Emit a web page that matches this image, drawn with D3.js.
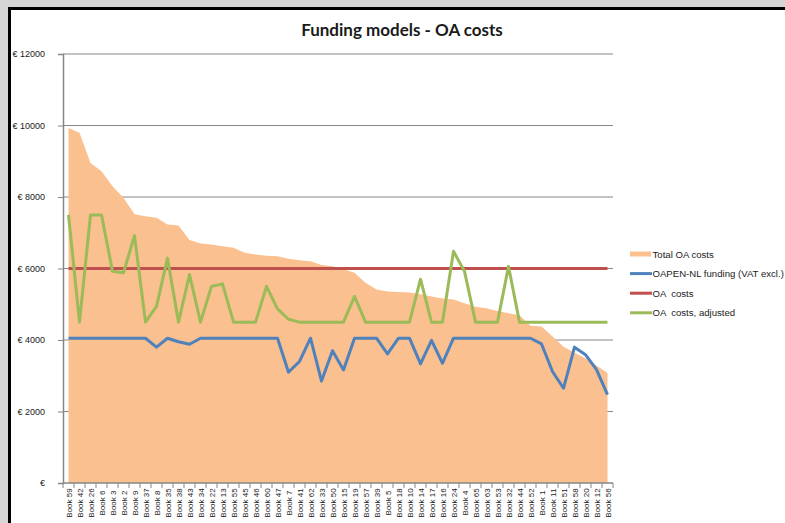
<!DOCTYPE html>
<html>
<head>
<meta charset="utf-8">
<script src="https://cdn.jsdelivr.net/npm/d3@7"></script>
<style>
	body { margin: 0; background: #fff; }
	svg { display: block; }
	text { font-family: 'Liberation Sans', Arial, sans-serif; fill: #1a1a1a; }
	.title { font-family: Lato, 'Liberation Sans', sans-serif; font-weight: bold; font-size: 17px; }
	.legend-label { font-size: 9.6px; white-space: pre; }
	.y-label { font-size: 9px; }
	.x-label { font-size: 8px; }
</style>
</head>
<body>
<svg class="chart" width="785" height="523"></svg>
<script>

const books = ['Book 59', 'Book 42', 'Book 26', 'Book 6', 'Book 3', 'Book 2', 'Book 9', 'Book 37', 'Book 8', 'Book 35',
	'Book 38', 'Book 43', 'Book 34', 'Book 22', 'Book 13', 'Book 55', 'Book 45', 'Book 46', 'Book 60', 'Book 47',
	'Book 7', 'Book 41', 'Book 62', 'Book 33', 'Book 50', 'Book 15', 'Book 19', 'Book 57', 'Book 39', 'Book 5',
	'Book 18', 'Book 10', 'Book 14', 'Book 17', 'Book 16', 'Book 24', 'Book 4', 'Book 65', 'Book 63', 'Book 53',
	'Book 32', 'Book 44', 'Book 52', 'Book 1', 'Book 11', 'Book 51', 'Book 58', 'Book 20', 'Book 12', 'Book 56']

const totalCosts = [9930, 9800, 8950, 8720, 8300, 7980, 7520, 7460, 7420, 7230,
	7200, 6800, 6700, 6670, 6620, 6580, 6440, 6390, 6360, 6340,
	6270, 6230, 6200, 6100, 6060, 5980, 5880, 5600, 5410, 5360,
	5340, 5330, 5280, 5220, 5160, 5130, 5030, 4930, 4890, 4810,
	4750, 4690, 4400, 4380, 4100, 3810, 3640, 3490, 3290, 3080]

const funding = [4050, 4050, 4050, 4050, 4050, 4050, 4050, 4050, 3800, 4050,
	3950, 3880, 4050, 4050, 4050, 4050, 4050, 4050, 4050, 4050,
	3100, 3400, 4050, 2850, 3700, 3160, 4050, 4050, 4050, 3610,
	4050, 4050, 3330, 3990, 3350, 4050, 4050, 4050, 4050, 4050,
	4050, 4050, 4050, 3890, 3120, 2650, 3800, 3590, 3170, 2470]

const oaCosts = [6000, 6000, 6000, 6000, 6000, 6000, 6000, 6000, 6000, 6000,
	6000, 6000, 6000, 6000, 6000, 6000, 6000, 6000, 6000, 6000,
	6000, 6000, 6000, 6000, 6000, 6000, 6000, 6000, 6000, 6000,
	6000, 6000, 6000, 6000, 6000, 6000, 6000, 6000, 6000, 6000,
	6000, 6000, 6000, 6000, 6000, 6000, 6000, 6000, 6000, 6000]

const oaAdjusted = [7500, 4500, 7500, 7500, 5920, 5880, 6920, 4500, 4940, 6290,
	4500, 5830, 4500, 5500, 5570, 4500, 4500, 4500, 5500, 4870,
	4580, 4500, 4500, 4500, 4500, 4500, 5220, 4500, 4500, 4500,
	4500, 4500, 5700, 4500, 4500, 6480, 5920, 4500, 4500, 4500,
	6060, 4500, 4500, 4500, 4500, 4500, 4500, 4500, 4500, 4500]

const yTicks = [0, 2000, 4000, 6000, 8000, 10000, 12000]
const yTickLabels = ['€', '€ 2000', '€ 4000', '€ 6000', '€ 8000', '€ 10000', '€ 12000']

const legendItems = ['Total OA costs', 'OAPEN-NL funding (VAT excl.)', 'OA  costs', 'OA  costs, adjusted']
const colors = ['#fac08f', '#4f81bd', '#c0504d', '#9bbb59']

const width = 785
const height = 523
const plot = { left: 63, right: 613, top: 54, bottom: 483 }
const axisGrey = '#868686'

const svg = d3.select('.chart')

// window frame
svg.append('rect').attr('width', width).attr('height', height).attr('fill', '#d6d6d6')
svg.append('rect').attr('x', 8).attr('y', 7).attr('width', width - 8).attr('height', height - 7).attr('fill', '#000')
svg.append('rect').attr('x', 11).attr('y', 10).attr('width', width - 11).attr('height', height - 10).attr('fill', '#fff')

const xScale = d3.scaleBand()
	.domain(books)
	.range([plot.left, plot.right])
	.paddingInner(0)
	.paddingOuter(0)

const xc = d => xScale(d) + xScale.bandwidth() / 2

const yScale = d3.scaleLinear()
	.domain([0, 12000])
	.range([plot.bottom, plot.top])

svg.append('text')
	.attr('class', 'title')
	.attr('x', 402)
	.attr('y', 36)
	.attr('text-anchor', 'middle')
	.text('Funding models - OA costs')

// gridlines
svg.append('g')
	.selectAll('line')
	.data(yTicks.filter(d => d > 0))
	.enter()
	.append('line')
	.attr('x1', plot.left)
	.attr('x2', plot.right)
	.attr('y1', d => yScale(d))
	.attr('y2', d => yScale(d))
	.style('stroke', axisGrey)
	.style('stroke-width', 1)

// area
const area = d3.area()
	.x((d, i) => xc(books[i]))
	.y0(yScale(0))
	.y1(d => yScale(d))

svg.append('path')
	.attr('d', area(totalCosts))
	.attr('fill', colors[0])

const line = d3.line()
	.x((d, i) => xc(books[i]))
	.y(d => yScale(d))

const series = [funding, oaCosts, oaAdjusted]

series.forEach((s, i) => {
	svg.append('path')
		.attr('d', line(s))
		.attr('fill', 'none')
		.style('stroke', colors[i + 1])
		.style('stroke-width', 3)
		.style('stroke-linejoin', 'round')
})

// y axis
const yAxis = d3.axisLeft(yScale)
	.tickValues(yTicks)
	.tickSize(5)
	.tickPadding(13)
	.tickFormat((d, i) => yTickLabels[i])

const yG = svg.append('g')
	.attr('transform', 'translate(' + plot.left + ',0)')
	.call(yAxis)

yG.select('.domain').style('stroke', axisGrey).style('stroke-width', 1.5)
yG.selectAll('.tick line').style('stroke', axisGrey)
yG.selectAll('.tick text').attr('class', 'y-label')
yG.attr('font-family', null).attr('font-size', null)

// x axis
const xG = svg.append('g')
	.attr('transform', 'translate(0,' + plot.bottom + ')')

xG.append('line')
	.attr('x1', plot.left)
	.attr('x2', plot.right)
	.style('stroke', axisGrey)
	.style('stroke-width', 1.5)

xG.selectAll('.x-tick')
	.data(books.concat(['end']))
	.enter()
	.append('line')
	.attr('class', 'x-tick')
	.attr('x1', (d, i) => plot.left + i * xScale.bandwidth())
	.attr('x2', (d, i) => plot.left + i * xScale.bandwidth())
	.attr('y1', 0)
	.attr('y2', 5)
	.style('stroke', axisGrey)

xG.selectAll('.x-label')
	.data(books)
	.enter()
	.append('text')
	.attr('class', 'x-label')
	.attr('transform', d => 'translate(' + (xc(d) + 0.5) + ',20) rotate(-90)')
	.attr('text-anchor', 'middle')
	.attr('dominant-baseline', 'central')
	.text(d => d)

// legend
const legend = svg.append('g')
	.attr('transform', 'translate(630, 254)')

const rows = legend.selectAll('g')
	.data(legendItems)
	.enter()
	.append('g')
	.attr('transform', (d, i) => 'translate(0,' + i * 19.6 + ')')

rows.filter((d, i) => i === 0)
	.append('rect')
	.attr('x', 0)
	.attr('y', -2.5)
	.attr('width', 21)
	.attr('height', 5)
	.attr('fill', colors[0])

rows.filter((d, i) => i > 0)
	.append('line')
	.attr('x1', 0)
	.attr('x2', 22)
	.style('stroke', (d, i) => colors[i + 1])
	.style('stroke-width', 3)

rows.append('text')
	.attr('class', 'legend-label')
	.attr('x', 22.5)
	.attr('y', 0)
	.attr('dominant-baseline', 'central')
	.text(d => d)

</script>
</body>
</html>
